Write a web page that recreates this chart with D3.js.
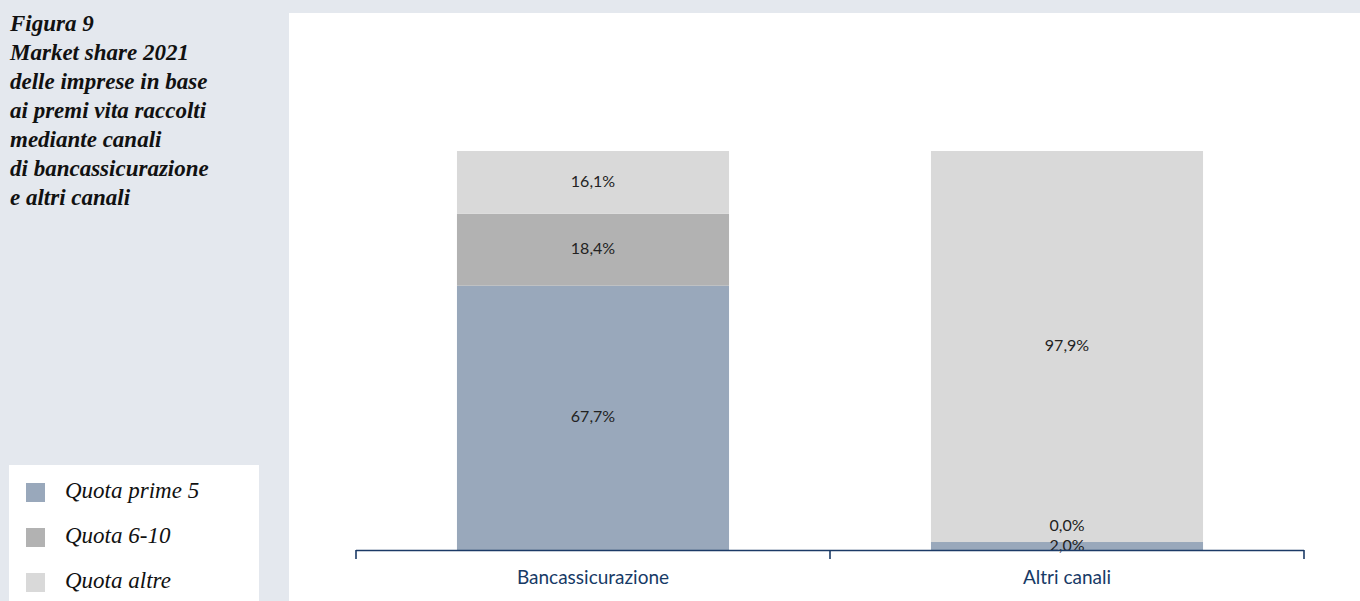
<!DOCTYPE html>
<html>
<head>
<meta charset="utf-8">
<script src="https://cdn.jsdelivr.net/npm/d3@7"></script>
<style>
  body { margin: 0; background: #e4e8ee; }
  svg { display: block; }
</style>
</head>
<body>
<script>
// chart values
var categories = ["Bancassicurazione", "Altri canali"];
var seriesNames = ["Quota prime 5", "Quota 6-10", "Quota altre"];
var prime5 = [67.7, 2.0];
var quota610 = [18.4, 0.0];
var altre = [16.1, 97.9];
var titleLines = ["Figura 9", "Market share 2021", "delle imprese in base",
  "ai premi vita raccolti", "mediante canali", "di bancassicurazione", "e altri canali"];

var width = 1360, height = 601;
var color = d3.scaleOrdinal()
  .domain(seriesNames)
  .range(["#99a8bb", "#b2b2b2", "#d9d9d9"]);

var data = categories.map(function(c, i) {
  var row = { cat: c };
  row[seriesNames[0]] = prime5[i];
  row[seriesNames[1]] = quota610[i];
  row[seriesNames[2]] = altre[i];
  return row;
});

var svg = d3.select("body").append("svg")
  .attr("width", width)
  .attr("height", height);

// background panels
svg.append("rect").attr("width", width).attr("height", height).attr("fill", "#e4e8ee");
svg.append("rect").attr("x", 289).attr("y", 13).attr("width", width - 289).attr("height", height - 13).attr("fill", "#fff");

// title
svg.append("text")
  .attr("x", 10)
  .attr("y", 31)
  .style("font-family", "'Liberation Serif', serif")
  .style("font-style", "italic")
  .style("font-weight", "bold")
  .style("font-size", "23px")
  .attr("fill", "#111")
  .selectAll("tspan")
  .data(titleLines)
  .enter().append("tspan")
  .attr("x", 10)
  .attr("dy", function(d, i) { return i === 0 ? 0 : 29; })
  .text(function(d) { return d; });

// scales
var x = d3.scaleBand()
  .domain(categories)
  .range([356, 1304])
  .paddingInner(0.426)
  .paddingOuter(0.213);

var y = d3.scaleLinear()
  .domain([0, 1])
  .range([550, 151]);

var stack = d3.stack()
  .keys(seriesNames)
  .offset(d3.stackOffsetExpand);
var series = stack(data);

var layer = svg.selectAll(".layer")
  .data(series)
  .enter().append("g")
  .attr("class", "layer")
  .attr("fill", function(d) { return color(d.key); });

layer.selectAll("rect")
  .data(function(d) { return d; })
  .enter().append("rect")
  .attr("x", function(d) { return x(d.data.cat); })
  .attr("y", function(d) { return y(d[1]); })
  .attr("width", x.bandwidth())
  .attr("height", function(d) { return y(d[0]) - y(d[1]); });

// value labels, pushed up when they would overlap the one below
var labels = [];
categories.forEach(function(c, i) {
  var prev = null;
  series.forEach(function(s) {
    var d = s[i];
    var cy = (y(d[0]) + y(d[1])) / 2 - 1;
    if (prev !== null && prev - cy < 20) cy = prev - 20;
    prev = cy;
    labels.push({ cat: c, y: cy, v: d.data[s.key] });
  });
});

svg.selectAll(".val")
  .data(labels)
  .enter().append("text")
  .attr("class", "val")
  .attr("x", function(d) { return x(d.cat) + x.bandwidth() / 2; })
  .attr("y", function(d) { return d.y; })
  .attr("dy", "0.35em")
  .attr("text-anchor", "middle")
  .style("font-family", "Lato, sans-serif")
  .style("font-size", "16px")
  .attr("fill", "#222")
  .text(function(d) { return d.v.toFixed(1).replace(".", ",") + "%"; });

// axis
var axisColor = "#1b3a66";
var step = x.step();
svg.append("line")
  .attr("x1", x.range()[0]).attr("x2", x.range()[1])
  .attr("y1", y(0) + 0.5).attr("y2", y(0) + 0.5)
  .attr("stroke", axisColor).attr("stroke-width", 1.6);

var tickPos = [x.range()[0]].concat(categories.map(function(c) {
  return x(c) + x.bandwidth() / 2 + step / 2;
}));
svg.selectAll(".tick")
  .data(tickPos)
  .enter().append("line")
  .attr("x1", function(d) { return d; }).attr("x2", function(d) { return d; })
  .attr("y1", y(0)).attr("y2", y(0) + 9)
  .attr("stroke", axisColor).attr("stroke-width", 1.6);

svg.selectAll(".cat")
  .data(categories)
  .enter().append("text")
  .attr("x", function(d) { return x(d) + x.bandwidth() / 2; })
  .attr("y", 577)
  .attr("dy", "0.35em")
  .attr("text-anchor", "middle")
  .style("font-family", "Lato, sans-serif")
  .style("font-size", "19px")
  .attr("fill", "#173a66")
  .text(function(d) { return d; });

// legend
svg.append("rect").attr("x", 9).attr("y", 465).attr("width", 250).attr("height", height - 465).attr("fill", "#fff");
var legend = svg.selectAll(".legend")
  .data(seriesNames)
  .enter().append("g")
  .attr("transform", function(d, i) { return "translate(26," + (483 + i * 45) + ")"; });

legend.append("rect")
  .attr("width", 19).attr("height", 19)
  .attr("fill", function(d) { return color(d); });

legend.append("text")
  .attr("x", 39)
  .attr("y", 15)
  .style("font-family", "'Liberation Serif', serif")
  .style("font-style", "italic")
  .style("font-size", "23px")
  .attr("fill", "#111")
  .text(function(d) { return d; });
</script>
</body>
</html>
